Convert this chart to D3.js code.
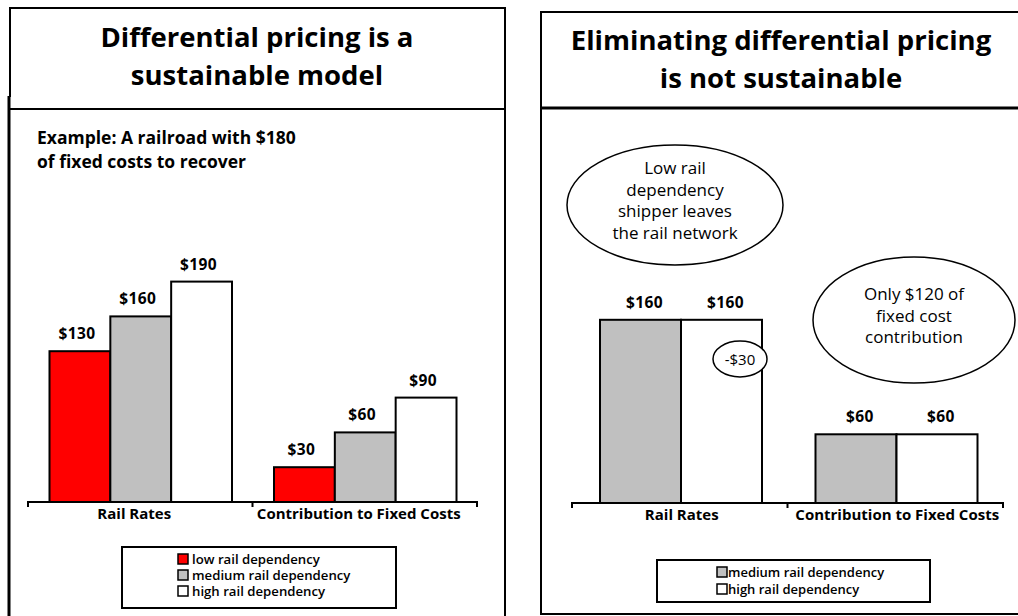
<!DOCTYPE html>
<html lang="en">
<head>
<meta charset="UTF-8">
<title>Differential pricing</title>
<script src="https://cdn.jsdelivr.net/npm/d3@7"></script>
<style>
  body { margin: 0; background: #fff; }
  text { font-family: "Open Sans", "Noto Sans", sans-serif; fill: #000; }
</style>
</head>
<body>
<script>
// chart values
const categories = ["Rail Rates", "Contribution to Fixed Costs"];
const seriesLeft = ["low rail dependency", "medium rail dependency", "high rail dependency"];
const seriesRight = ["medium rail dependency", "high rail dependency"];
const lowValues = [130, 30];
const mediumValues = [160, 60];
const highValues = [190, 90];
const rightMedium = [160, 60];
const rightHigh = [160, 60];
const colors = { "low rail dependency": "#ff0000", "medium rail dependency": "#c0c0c0", "high rail dependency": "#ffffff" };

const width = 1018, height = 616;

const svg = d3.select("body").append("svg")
    .attr("width", width)
    .attr("height", height);

//Panel frames
const frames = svg.append("g").attr("fill", "none").attr("stroke", "#000").attr("stroke-width", 2);
frames.append("path").attr("d", "M10,97V8H505V616");
frames.append("path").attr("d", "M9,96V616").attr("stroke-width", 3);
frames.append("path").attr("d", "M10,109H505");
frames.append("path").attr("d", "M1020,12H541V614H1020");
frames.append("path").attr("d", "M541,108H1020").attr("stroke-width", 3);

//Titles
function title(x, lines, y0) {
    const t = svg.append("text")
        .attr("text-anchor", "middle")
        .attr("font-size", 27.5)
        .attr("font-weight", 700);
    lines.forEach((l, i) => t.append("tspan").attr("x", x).attr("y", y0 + i * 38).text(l));
}
title(257, ["Differential pricing is a", "sustainable model"], 47);
title(781, ["Eliminating differential pricing", "is not sustainable"], 50);

const sub = svg.append("text").attr("font-size", 17.5).attr("font-weight", 700);
sub.append("tspan").attr("x", 37).attr("y", 144).text("Example: A railroad with $180");
sub.append("tspan").attr("x", 37).attr("y", 168).text("of fixed costs to recover");

//Draws one grouped bar chart
function barChart(opts) {
    const x0 = d3.scaleBand().domain(categories).range(opts.xRange);
    const x1 = d3.scaleBand().domain(opts.series).range(opts.inner);
    const y = d3.scaleLinear().domain([0, 200]).range([opts.base, opts.base - opts.pxPer200]);

    const rows = categories.map((c, i) => ({
        cat: c,
        vals: opts.series.map((s, j) => ({ s, v: opts.values[j][i] }))
    }));

    const g = svg.append("g");

    const groups = g.selectAll("g.grp")
        .data(rows)
        .join("g")
        .attr("class", "grp")
        .attr("transform", d => `translate(${x0(d.cat)},0)`);

    groups.selectAll("rect")
        .data(d => d.vals)
        .join("rect")
        .attr("x", d => x1(d.s))
        .attr("y", d => y(d.v))
        .attr("width", x1.bandwidth())
        .attr("height", d => y(0) - y(d.v))
        .attr("fill", d => colors[d.s])
        .attr("stroke", "#000")
        .attr("stroke-width", 2);

    groups.selectAll("text.val")
        .data(d => d.vals)
        .join("text")
        .attr("class", "val")
        .attr("x", d => x1(d.s) + x1.bandwidth() / 2 + opts.labelDx)
        .attr("y", d => y(d.v) - 12)
        .attr("text-anchor", "middle")
        .attr("font-size", 15.5)
        .attr("font-weight", 700)
        .attr("letter-spacing", 0.4)
        .text(d => "$" + d.v);

    //Baseline with ticks at the band edges
    const [a, b] = opts.xRange;
    const mid = x0(categories[1]);
    g.append("path")
        .attr("fill", "none")
        .attr("stroke", "#000")
        .attr("stroke-width", 2)
        .attr("d", `M${a},${y(0) + 5}V${y(0)}H${b}V${y(0) + 5}M${mid},${y(0)}V${y(0) + 5}`);

    g.selectAll("text.cat")
        .data(categories)
        .join("text")
        .attr("class", "cat")
        .attr("x", d => x0(d) + x0.bandwidth() / 2 + opts.catDx)
        .attr("y", y(0) + 16.5)
        .attr("text-anchor", "middle")
        .attr("font-size", 15)
        .attr("font-weight", 700)
        .text(d => d);
}

barChart({ series: seriesLeft, values: [lowValues, mediumValues, highValues],
    xRange: [28, 477], inner: [21.5, 204], base: 502, pxPer200: 232, labelDx: -3, catDx: -6 });
barChart({ series: seriesRight, values: [rightMedium, rightHigh],
    xRange: [572, 1003], inner: [28, 190], base: 503, pxPer200: 229, labelDx: 4, catDx: 2 });

//Callout ellipses
function callout(cx, cy, rx, ry, lines, y0, size) {
    svg.append("ellipse")
        .attr("cx", cx).attr("cy", cy).attr("rx", rx).attr("ry", ry)
        .attr("fill", "#fff").attr("stroke", "#000").attr("stroke-width", 1.5);
    const t = svg.append("text").attr("text-anchor", "middle").attr("font-size", size);
    lines.forEach((l, i) => t.append("tspan").attr("x", cx).attr("y", y0 + i * 21.5).text(l));
}
callout(675, 205, 108, 60, ["Low rail", "dependency", "shipper leaves", "the rail network"], 174, 17);
callout(914, 320, 101, 63, ["Only $120 of", "fixed cost", "contribution"], 300, 17);
callout(740, 359, 27, 18, ["-$30"], 364.5, 15);

//Legends
function legend(x, y, w, h, series, sx, rowY, rowH, gap, size) {
    const g = svg.append("g");
    g.append("rect").attr("x", x).attr("y", y).attr("width", w).attr("height", h)
        .attr("fill", "#fff").attr("stroke", "#000").attr("stroke-width", 2);
    const items = g.selectAll("g.item")
        .data(series)
        .join("g")
        .attr("transform", (d, i) => `translate(${sx},${rowY + i * rowH})`);
    items.append("rect")
        .attr("x", 0).attr("y", -5).attr("width", 10).attr("height", 10)
        .attr("fill", d => colors[d]).attr("stroke", "#000").attr("stroke-width", 1.5);
    items.append("text")
        .attr("x", 10 + gap).attr("y", 4.5)
        .attr("font-size", size)
        .attr("font-weight", 600)
        .text(d => d);
}
legend(122, 547, 274, 61, seriesLeft, 178, 559, 16, 4, 13.2);
legend(657, 560, 273, 42, seriesRight, 717, 572, 17, 1, 13);
</script>
</body>
</html>
